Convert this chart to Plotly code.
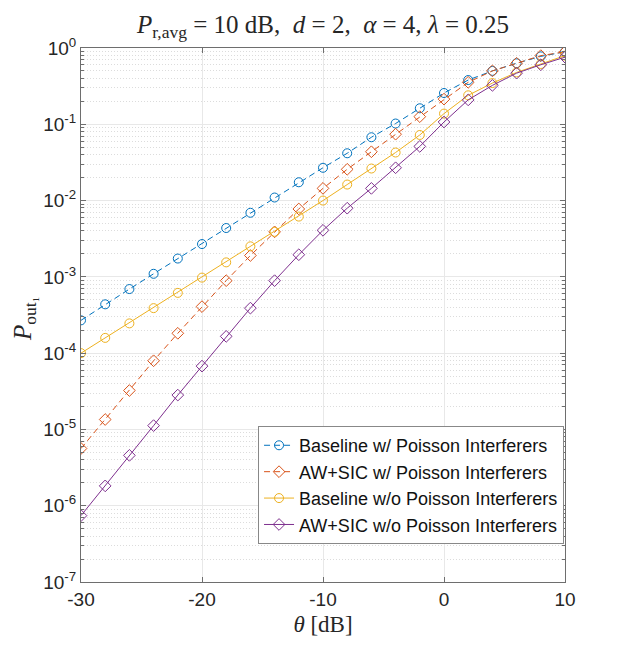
import plotly.graph_objects as go

theta_db = [-30, -28, -26, -24, -22, -20, -18, -16, -14, -12, -10,
            -8, -6, -4, -2, 0, 2, 4, 6, 8, 10]

# log10 of outage probability
log_baseline_poisson = [-3.57, -3.36, -3.16, -2.96, -2.76, -2.57, -2.36, -2.16, -1.96, -1.76, -1.57,
                        -1.38, -1.17, -0.99, -0.79, -0.59, -0.42, -0.30, -0.20, -0.11, -0.05]
log_awsic_poisson = [-5.25, -4.87, -4.49, -4.10, -3.74, -3.39, -3.05, -2.72, -2.41, -2.11, -1.84,
                     -1.59, -1.36, -1.13, -0.90, -0.67, -0.45, -0.30, -0.20, -0.10, -0.05]
log_baseline_nopoisson = [-4.00, -3.80, -3.61, -3.41, -3.21, -3.01, -2.81, -2.60, -2.41, -2.21, -2.00,
                          -1.79, -1.58, -1.37, -1.14, -0.86, -0.62, -0.46, -0.32, -0.21, -0.10]
log_awsic_nopoisson = [-6.13, -5.74, -5.34, -4.95, -4.55, -4.17, -3.78, -3.41, -3.05, -2.71, -2.39,
                       -2.10, -1.84, -1.57, -1.29, -0.97, -0.68, -0.49, -0.33, -0.22, -0.12]

series_names = ["Baseline w/ Poisson Interferers", "AW+SIC w/ Poisson Interferers",
                "Baseline w/o Poisson Interferers", "AW+SIC w/o Poisson Interferers"]
series_logs = [log_baseline_poisson, log_awsic_poisson, log_baseline_nopoisson, log_awsic_nopoisson]
series_colors = ["#0072BD", "#D95319", "#EDB120", "#7E2F8E"]
series_symbols = ["circle-open", "diamond-open", "circle-open", "diamond-open"]
series_dash = ["6px,4px", "6px,4px", "solid", "solid"]

x_tickvals = [-30, -20, -10, 0, 10]
x_ticktext = ["-30", "-20", "-10", "0", "10"]
y_exponents = [-7, -6, -5, -4, -3, -2, -1, 0]

fig = go.Figure()
for name, logs, col, sym, dash in zip(series_names, series_logs, series_colors, series_symbols, series_dash):
    fig.add_trace(go.Scatter(
        x=theta_db, y=[10 ** v for v in logs], name=name, mode="lines+markers",
        line=dict(color=col, width=1, dash=dash),
        marker=dict(symbol=sym, size=9, color=col, line=dict(width=1, color=col)),
    ))

minor_vals = [k * 10 ** e for e in y_exponents[:-1] for k in range(2, 10)]

axis_common = dict(showline=True, linecolor="#6e6e6e", linewidth=1, mirror="ticks",
                   ticks="inside", ticklen=5, tickcolor="#6e6e6e",
                   gridcolor="#e8e8e8", gridwidth=1, zeroline=False,
                   tickfont=dict(family="Liberation Sans, Arial", size=19, color="#262626"))

fig.update_xaxes(range=[-30, 10], tickmode="array", tickvals=x_tickvals, ticktext=x_ticktext,
                 title=dict(text="<i>θ</i> [dB]", font=dict(family="Liberation Serif, Times New Roman", size=23, color="#262626"), standoff=7),
                 **axis_common)
fig.update_yaxes(type="log", range=[-7, 0], tickmode="array",
                 tickvals=[10 ** e for e in y_exponents],
                 ticktext=["10<sup>%d</sup>" % e for e in y_exponents],
                 minor=dict(tickmode="array", tickvals=minor_vals, ticks="inside", ticklen=3,
                            tickcolor="#6e6e6e", showgrid=True, griddash="1px,2px", gridcolor="#dcdcdc"),
                 **axis_common)

fig.add_annotation(text="<i>P</i><sub>out₁</sub>", xref="paper", yref="paper",
                   x=-0.118, y=0.494, xanchor="center", yanchor="middle", textangle=-90,
                   showarrow=False,
                   font=dict(family="Liberation Serif, Times New Roman", size=25, color="#262626"))

fig.update_layout(
    width=623, height=655,
    margin=dict(l=73, r=66, t=40, b=81),
    paper_bgcolor="white", plot_bgcolor="white",
    title=dict(text="<i>P</i><sub>r,avg</sub> = 10 dB,  <i>d</i> = 2,  <i>α</i> = 4, <i>λ</i> = 0.25",
               x=0.5, xref="paper", xanchor="center", y=0.962, yanchor="bottom", yref="container",
               font=dict(family="Liberation Serif, Times New Roman", size=25, color="#262626")),
    legend=dict(x=0.998, y=0.292, xanchor="right", yanchor="top",
                bgcolor="white", bordercolor="#888888", borderwidth=1,
                font=dict(family="Liberation Sans, Arial", size=18, color="#111111"),
                tracegroupgap=0, itemwidth=30),
    showlegend=True,
)

fig.write_html("out.html")
